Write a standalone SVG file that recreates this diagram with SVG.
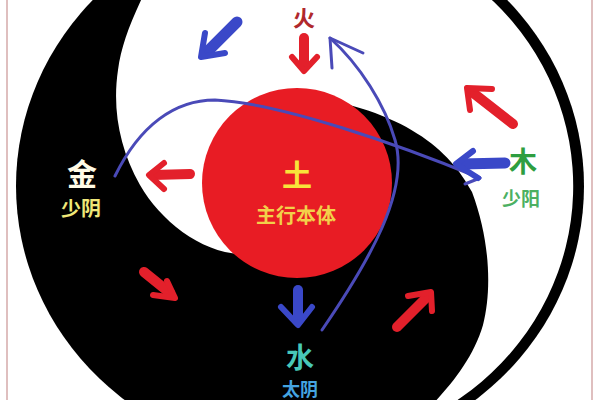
<svg xmlns="http://www.w3.org/2000/svg" width="600" height="400" viewBox="0 0 600 400">
<style>
.t{font-family:"Noto Sans CJK SC","Noto Sans CJK JP",sans-serif;font-weight:bold;text-anchor:middle}
.ra{fill:none;stroke:#e3202b;stroke-linecap:round;stroke-linejoin:round}
.ba{fill:none;stroke:#3a48c8;stroke-linecap:round;stroke-linejoin:round}
.bl{fill:none;stroke:#4a4ab8;stroke-width:3;stroke-linecap:round;stroke-linejoin:round}
.sh{stroke-width:10}
.hd{stroke-width:6}
</style>
<rect x="0" y="0" width="600" height="400" fill="#ffffff"/>
<line x1="7" y1="0" x2="7" y2="400" stroke="#d4aaaa" stroke-width="1.5"/>
<line x1="592" y1="0" x2="592" y2="400" stroke="#d4aaaa" stroke-width="1.5"/>
<g id="taiji">
<ellipse cx="300" cy="186" rx="284" ry="272" fill="#000000"/>
<path fill="#ffffff" d="M161,-40 A274 262 0 1 1 412,425 C432,405 470,370 483,325 C492,290 490,240 472,192 C450,150 405,110 300,95 L292,100 L240,254 C200,252 160,220 140,185 C120,150 112,110 118,70 C122,40 135,10 161,-40 Z"/>
</g>
<g id="earth">
<circle cx="297" cy="183" r="95" fill="#e81c24"/>
<text class="t" x="297" y="186" font-size="30" fill="#f8e43a">土</text>
<text class="t" x="296" y="223" font-size="20" fill="#f2d04a">主行本体</text>
</g>
<g id="fire">
<text class="t" x="304" y="26" font-size="22" fill="#b0282c">火</text>
</g>
<g id="metal">
<text class="t" x="82" y="185" font-size="30" fill="#fffbe6">金</text>
<text class="t" x="81" y="216" font-size="20" fill="#f0e878">少阴</text>
</g>
<g id="wood">
<text class="t" x="523" y="172" font-size="28" fill="#2e9e40">木</text>
<text class="t" x="521" y="206" font-size="19" fill="#4cb062">少阳</text>
</g>
<g id="water">
<text class="t" x="300" y="368" font-size="28" fill="#48c8b8">水</text>
<text class="t" x="300" y="396" font-size="18" fill="#44a4e0">太阴</text>
</g>
<g id="connectors">
<path class="bl" d="M115,176 C140,125 175,100 215,100 C280,103 400,145 480,178"/>
<path class="bl" d="M466,170 L480,178 L465,184"/>
<path class="bl" d="M322,330 C370,260 410,190 395,140 C385,105 360,65 330,38"/>
<path class="bl" d="M332,68 L330,38 L363,53"/>
<path class="ra sh" d="M304,38 L304,64"/>
<path class="ra hd" d="M292,57 L304,71 L317,57"/>
<path class="ra sh" d="M513,124 L472,92"/>
<path class="ra hd" d="M470,110 L467,88 L492,89"/>
<path class="ra sh" d="M190,174 L153,175"/>
<path class="ra hd" d="M164,163 L149,175 L164,189"/>
<path class="ra sh" d="M144,272 L170,293"/>
<path class="ra hd" d="M167,281 L175,298 L153,295"/>
<path class="ra sh" d="M397,327 L428,296"/>
<path class="ra hd" d="M408,296 L431,292 L432,311"/>
<path class="ba" stroke-width="11" d="M237,22 L207,52"/>
<path class="ba hd" d="M205,33 L201,57 L225,53"/>
<path class="ba sh" d="M298,290 L298,321"/>
<path class="ba hd" d="M281,307 L298,325 L312,307"/>
<path class="ba" stroke-width="11" d="M505,163 L462,164"/>
<path class="ba hd" d="M473,151 L456,164 L478,178"/>
</g>
</svg>
